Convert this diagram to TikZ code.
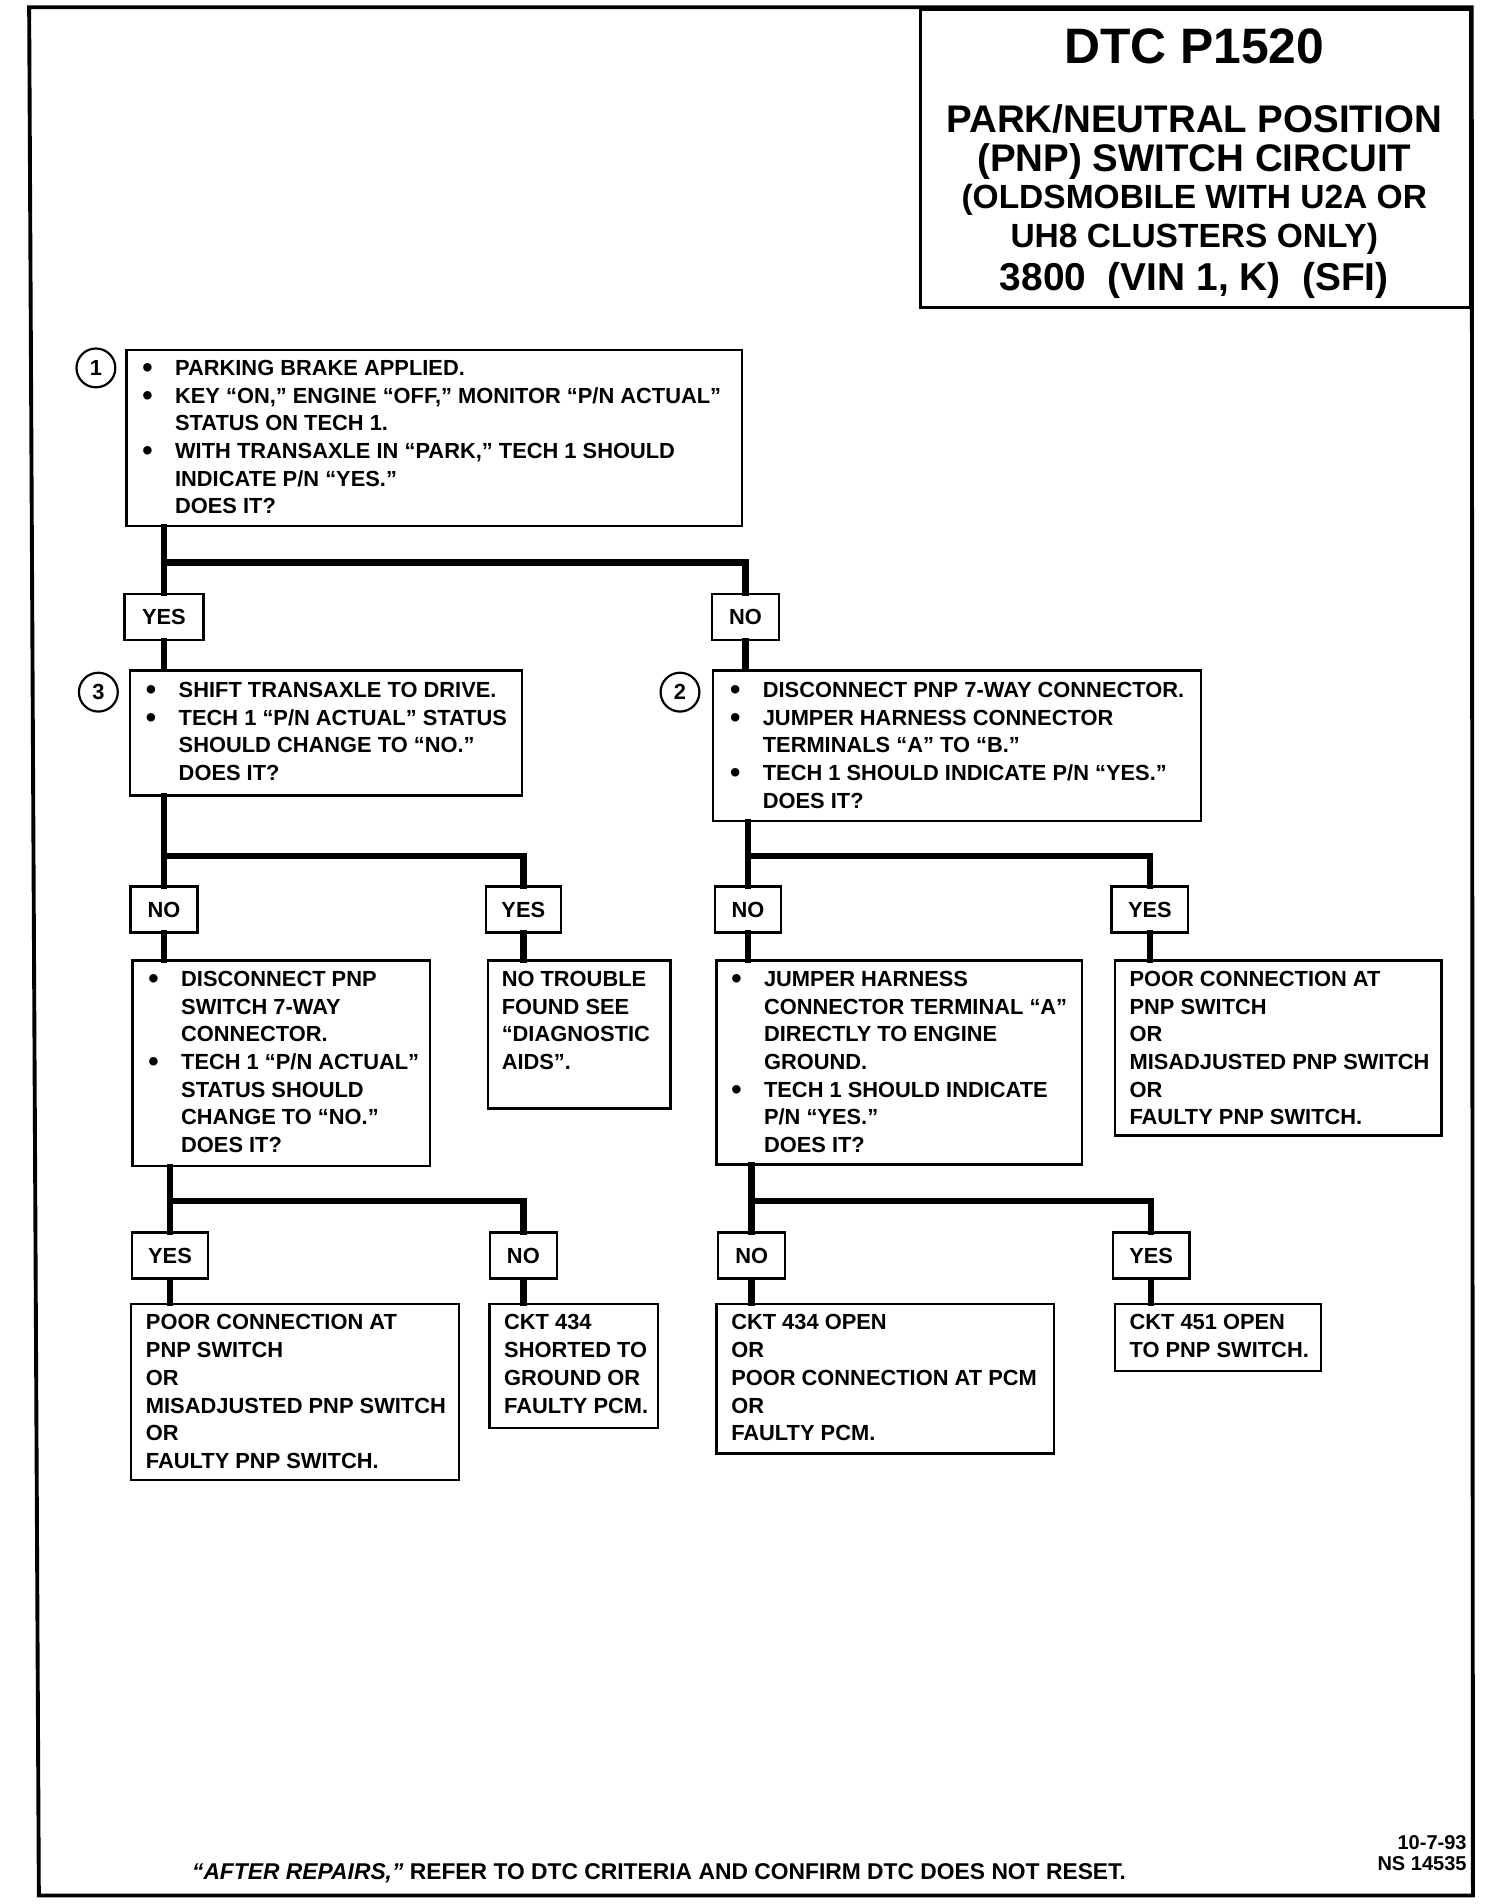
\documentclass[tikz,border=0pt]{standalone}
\usepackage{fontspec}
\setmainfont{Liberation Sans}
\newcommand\bodyfont{\fontsize{18}{22.8}\selectfont\bfseries}
\newcommand\bl{\makebox[26pt][l]{\hspace*{-1pt}\smash{\raisebox{-1.8pt}{\scalebox{1.35}{\textbullet}}}}}
\newcommand\ind{\hspace*{26pt}}
\begin{document}
\begin{tikzpicture}[x=1pt,y=-1pt,
  box/.style={draw, line width=2pt, anchor=north west, inner sep=0pt, fill=white},
  lbl/.style={draw, line width=2pt, inner sep=0pt, minimum height=38pt, font=\bodyfont, fill=white},
  txt/.style={anchor=north west, inner sep=0pt, align=left, font=\bodyfont},
  num/.style={draw, circle, line width=1.8pt, minimum size=32pt, inner sep=0pt, font=\bodyfont},
  conn/.style={line width=5.5pt, line cap=rect},
  ttl/.style={anchor=base, inner sep=0pt, font=\bfseries}]
\useasboundingbox (0,0) rectangle (1239,1568);
% frame
\draw[line width=3.2pt, line join=miter] (24,6) -- (1212,6) -- (1213,1561) -- (32,1561) -- cycle;
% title
\node[box, line width=2.4pt, minimum width=453pt, minimum height=245pt] (title) at (757,7) {};
\node[ttl, font=\fontsize{41}{41}\selectfont\bfseries] (t1) at (983.5,52.7) {DTC P1520};
\node[ttl, font=\fontsize{31.7}{31.7}\selectfont\bfseries] (t2) at (983.5,109.3) {PARK/NEUTRAL POSITION};
\node[ttl, font=\fontsize{31.7}{31.7}\selectfont\bfseries] (t3) at (983.5,141.3) {(PNP) SWITCH CIRCUIT};
\node[ttl, font=\fontsize{27.6}{27.6}\selectfont\bfseries] (t4) at (983.5,171.9) {(OLDSMOBILE WITH U2A OR};
\node[ttl, font=\fontsize{27.6}{27.6}\selectfont\bfseries] (t5) at (983.5,203.9) {UH8 CLUSTERS ONLY)};
\node[ttl, font=\fontsize{32}{32}\selectfont\bfseries] (t6) at (983.5,239.5) {3800\ \ (VIN 1, K)\ \ (SFI)};

% junction coordinates
\coordinate (j1) at (135,463);
\coordinate (j3) at (135,705);
\coordinate (j2) at (616,705);
\coordinate (j4) at (140,989);
\coordinate (j6) at (619,989);

% boxes
\node[box, minimum width=507pt, minimum height=145pt] (b1) at (103,287) {};
\node[box, minimum width=323pt, minimum height=103pt] (b3) at (106,551) {};
\node[box, minimum width=402pt, minimum height=124pt] (b2) at (586,551) {};
\node[box, minimum width=245pt, minimum height=169pt] (b4) at (108,790) {};
\node[box, minimum width=150pt, minimum height=122pt] (b5) at (401,790) {};
\node[box, minimum width=301pt, minimum height=168pt] (b6) at (589,790) {};
\node[box, minimum width=269pt, minimum height=144pt] (b7) at (917,790) {};
\node[box, minimum width=270pt, minimum height=145pt] (b8) at (107,1073) {};
\node[box, minimum width=139pt, minimum height=102pt] (b9) at (402,1073) {};
\node[box, minimum width=278pt, minimum height=123pt] (b10) at (589,1073) {};
\node[box, minimum width=170pt, minimum height=55pt] (b11) at (917,1073) {};

% labels
\node[lbl, minimum width=65pt] (yes1) at (135,508) {YES};
\node[lbl, minimum width=55pt] (no1) at (614,508) {NO};
\node[lbl, minimum width=55pt] (no3) at (135,749) {NO};
\node[lbl, minimum width=62pt] (yes3) at (431,749) {YES};
\node[lbl, minimum width=54pt] (no2) at (616,749) {NO};
\node[lbl, minimum width=63pt] (yes2) at (947,749) {YES};
\node[lbl, minimum width=63pt] (yes4) at (140,1034) {YES};
\node[lbl, minimum width=55pt] (no4) at (431,1034) {NO};
\node[lbl, minimum width=55pt] (no5) at (619,1034) {NO};
\node[lbl, minimum width=63pt] (yes5) at (948,1034) {YES};

% connectors
\draw[conn] (yes1.north |- b1.south) -- (yes1.north);
\draw[conn] (j1) -| (no1.north);
\draw[conn] (yes1.south) -- (yes1.south |- b3.north);
\draw[conn] (no1.south) -- (no1.south |- b2.north);
\draw[conn] (no3.north |- b3.south) -- (no3.north);
\draw[conn] (j3) -| (yes3.north);
\draw[conn] (no3.south) -- (no3.south |- b4.north);
\draw[conn] (yes3.south) -- (yes3.south |- b5.north);
\draw[conn] (no2.north |- b2.south) -- (no2.north);
\draw[conn] (j2) -| (yes2.north);
\draw[conn] (no2.south) -- (no2.south |- b6.north);
\draw[conn] (yes2.south) -- (yes2.south |- b7.north);
\draw[conn] (yes4.north |- b4.south) -- (yes4.north);
\draw[conn] (j4) -| (no4.north);
\draw[conn] (yes4.south) -- (yes4.south |- b8.north);
\draw[conn] (no4.south) -- (no4.south |- b9.north);
\draw[conn] (no5.north |- b6.south) -- (no5.north);
\draw[conn] (j6) -| (yes5.north);
\draw[conn] (no5.south) -- (no5.south |- b10.north);
\draw[conn] (yes5.south) -- (yes5.south |- b11.north);

% numbered circles
\node[num] (c1) at (79,303) {1};
\node[num] (c3) at (81,570) {3};
\node[num] (c2) at (560,570) {2};

% texts
\node[txt] (x1) at (118,296.5) {\bl PARKING BRAKE APPLIED.\\
\bl KEY “ON,” ENGINE “OFF,” MONITOR “P/N ACTUAL”\\
\ind STATUS ON TECH 1.\\
\bl WITH TRANSAXLE IN “PARK,” TECH 1 SHOULD\\
\ind INDICATE P/N “YES.”\\
\ind DOES IT?};
\node[txt] (x3) at (121,561.5) {\bl SHIFT TRANSAXLE TO DRIVE.\\
\bl TECH 1 “P/N ACTUAL” STATUS\\
\ind SHOULD CHANGE TO “NO.”\\
\ind DOES IT?};
\node[txt] (x2) at (602,561.5) {\bl DISCONNECT PNP 7-WAY CONNECTOR.\\
\bl JUMPER HARNESS CONNECTOR\\
\ind TERMINALS “A” TO “B.”\\
\bl TECH 1 SHOULD INDICATE P/N “YES.”\\
\ind DOES IT?};
\node[txt] (x4) at (123,799.5) {\bl DISCONNECT PNP\\
\ind SWITCH 7-WAY\\
\ind CONNECTOR.\\
\bl TECH 1 “P/N ACTUAL”\\
\ind STATUS SHOULD\\
\ind CHANGE TO “NO.”\\
\ind DOES IT?};
\node[txt] (x5) at (413,799.5) {NO TROUBLE\\FOUND SEE\\“DIAGNOSTIC\\AIDS”.};
\node[txt] (x6) at (603,799.5) {\bl JUMPER HARNESS\\
\ind CONNECTOR TERMINAL “A”\\
\ind DIRECTLY TO ENGINE\\
\ind GROUND.\\
\bl TECH 1 SHOULD INDICATE\\
\ind P/N “YES.”\\
\ind DOES IT?};
\node[txt] (x7) at (930,799.5) {POOR CONNECTION AT\\PNP SWITCH\\OR\\MISADJUSTED PNP SWITCH\\OR\\FAULTY PNP SWITCH.};
\node[txt] (x8) at (120,1082.5) {POOR CONNECTION AT\\PNP SWITCH\\OR\\MISADJUSTED PNP SWITCH\\OR\\FAULTY PNP SWITCH.};
\node[txt] (x9) at (415,1082.5) {CKT 434\\SHORTED TO\\GROUND OR\\FAULTY PCM.};
\node[txt] (x10) at (602,1082.5) {CKT 434 OPEN\\OR\\POOR CONNECTION AT PCM\\OR\\FAULTY PCM.};
\node[txt] (x11) at (930,1082.5) {CKT 451 OPEN\\TO PNP SWITCH.};

% footer
\node[anchor=base west, inner sep=0pt, font=\fontsize{18.8}{18.8}\selectfont\bfseries] (foot) at (158,1548) {\textit{“AFTER REPAIRS,”} REFER TO DTC CRITERIA AND CONFIRM DTC DOES NOT RESET.};
\node[anchor=north east, inner sep=0pt, align=right, font=\fontsize{16.5}{18}\selectfont\bfseries] (ref) at (1208,1511) {10-7-93\\NS 14535};
\end{tikzpicture}
\end{document}
